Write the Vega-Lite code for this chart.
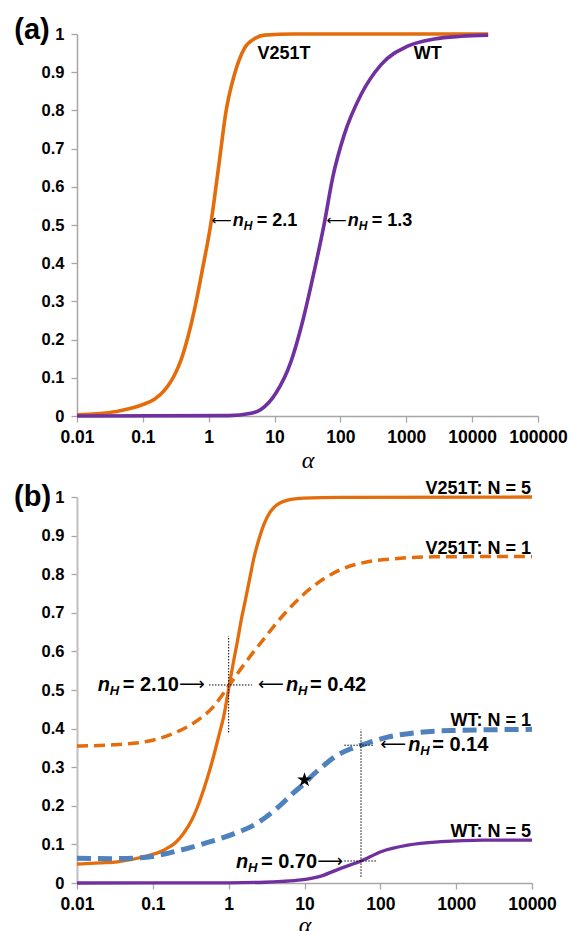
{
  "$schema": "https://vega.github.io/schema/vega-lite/v6.json",
  "background": "white",
  "padding": {"left": 14, "top": 16, "right": 5, "bottom": 0},
  "config": {
    "view": {"stroke": null},
    "font": "Liberation Sans",
    "axis": {
      "grid": false,
      "domainColor": "#a6a6a6",
      "domainWidth": 1.5,
      "tickColor": "#a6a6a6",
      "tickWidth": 1.3,
      "tickSize": 6,
      "labelFont": "Liberation Sans",
      "labelFontWeight": "bold",
      "labelColor": "black",
      "labelFlush": false,
      "labelOverlap": false
    }
  },
  "spacing": 81,
  "bounds": "flush",
  "datasets": {
    "curvesA": [
      {"series": "V251T", "alpha": 0.01, "value": 0.003},
      {"series": "V251T", "alpha": 0.02, "value": 0.006},
      {"series": "V251T", "alpha": 0.04, "value": 0.012},
      {"series": "V251T", "alpha": 0.066, "value": 0.02},
      {"series": "V251T", "alpha": 0.1, "value": 0.03},
      {"series": "V251T", "alpha": 0.15, "value": 0.044},
      {"series": "V251T", "alpha": 0.2, "value": 0.062},
      {"series": "V251T", "alpha": 0.25, "value": 0.083},
      {"series": "V251T", "alpha": 0.3, "value": 0.106},
      {"series": "V251T", "alpha": 0.38, "value": 0.147},
      {"series": "V251T", "alpha": 0.48, "value": 0.205},
      {"series": "V251T", "alpha": 0.6, "value": 0.274},
      {"series": "V251T", "alpha": 0.81, "value": 0.387},
      {"series": "V251T", "alpha": 1.07, "value": 0.5},
      {"series": "V251T", "alpha": 1.45, "value": 0.667},
      {"series": "V251T", "alpha": 1.83, "value": 0.797},
      {"series": "V251T", "alpha": 2.45, "value": 0.893},
      {"series": "V251T", "alpha": 3.5, "value": 0.963},
      {"series": "V251T", "alpha": 5, "value": 0.988},
      {"series": "V251T", "alpha": 7, "value": 0.997},
      {"series": "V251T", "alpha": 20, "value": 1.0},
      {"series": "V251T", "alpha": 17500, "value": 1.0},
      {"series": "WT", "alpha": 0.01, "value": 0.0},
      {"series": "WT", "alpha": 2, "value": 0.001},
      {"series": "WT", "alpha": 4.4, "value": 0.007},
      {"series": "WT", "alpha": 6.2, "value": 0.017},
      {"series": "WT", "alpha": 10.5, "value": 0.06},
      {"series": "WT", "alpha": 17.8, "value": 0.143},
      {"series": "WT", "alpha": 26.7, "value": 0.248},
      {"series": "WT", "alpha": 40, "value": 0.379},
      {"series": "WT", "alpha": 57, "value": 0.505},
      {"series": "WT", "alpha": 76, "value": 0.623},
      {"series": "WT", "alpha": 114, "value": 0.736},
      {"series": "WT", "alpha": 205, "value": 0.841},
      {"series": "WT", "alpha": 415, "value": 0.92},
      {"series": "WT", "alpha": 1050, "value": 0.968},
      {"series": "WT", "alpha": 2670, "value": 0.987},
      {"series": "WT", "alpha": 6800, "value": 0.994},
      {"series": "WT", "alpha": 17500, "value": 0.997}
    ],
    "labelsA": [
      {"alpha": 13.9, "value": 0.948, "label": "V251T"},
      {"alpha": 2115, "value": 0.948, "label": "WT"}
    ],
    "annA": [
      {"alpha": 1.07, "value": 0.51, "val": "= 2.1"},
      {"alpha": 59.7, "value": 0.51, "val": "= 1.3"}
    ],
    "tagA": [{"alpha": 0.00207, "value": 1.01, "label": "(a)"}],
    "curvesB": [
      {"series": "V251T N=5", "alpha": 0.01, "value": 0.049},
      {"series": "V251T N=5", "alpha": 0.02, "value": 0.052},
      {"series": "V251T N=5", "alpha": 0.034, "value": 0.055},
      {"series": "V251T N=5", "alpha": 0.076, "value": 0.068},
      {"series": "V251T N=5", "alpha": 0.139, "value": 0.085},
      {"series": "V251T N=5", "alpha": 0.2, "value": 0.105},
      {"series": "V251T N=5", "alpha": 0.255, "value": 0.129},
      {"series": "V251T N=5", "alpha": 0.33, "value": 0.165},
      {"series": "V251T N=5", "alpha": 0.42, "value": 0.215},
      {"series": "V251T N=5", "alpha": 0.52, "value": 0.27},
      {"series": "V251T N=5", "alpha": 0.63, "value": 0.327},
      {"series": "V251T N=5", "alpha": 0.75, "value": 0.385},
      {"series": "V251T N=5", "alpha": 0.86, "value": 0.431},
      {"series": "V251T N=5", "alpha": 1.02, "value": 0.513},
      {"series": "V251T N=5", "alpha": 1.15, "value": 0.57},
      {"series": "V251T N=5", "alpha": 1.29, "value": 0.621},
      {"series": "V251T N=5", "alpha": 1.46, "value": 0.68},
      {"series": "V251T N=5", "alpha": 1.66, "value": 0.733},
      {"series": "V251T N=5", "alpha": 1.9, "value": 0.79},
      {"series": "V251T N=5", "alpha": 2.14, "value": 0.84},
      {"series": "V251T N=5", "alpha": 2.5, "value": 0.89},
      {"series": "V251T N=5", "alpha": 2.9, "value": 0.928},
      {"series": "V251T N=5", "alpha": 3.5, "value": 0.96},
      {"series": "V251T N=5", "alpha": 4.3, "value": 0.979},
      {"series": "V251T N=5", "alpha": 6, "value": 0.992},
      {"series": "V251T N=5", "alpha": 9.8, "value": 0.997},
      {"series": "V251T N=5", "alpha": 30, "value": 0.999},
      {"series": "V251T N=5", "alpha": 10000, "value": 1.0},
      {"series": "WT N=5", "alpha": 0.01, "value": 0.0},
      {"series": "WT N=5", "alpha": 1, "value": 0.0005},
      {"series": "WT N=5", "alpha": 3, "value": 0.002},
      {"series": "WT N=5", "alpha": 5, "value": 0.004},
      {"series": "WT N=5", "alpha": 9, "value": 0.008},
      {"series": "WT N=5", "alpha": 16.5, "value": 0.018},
      {"series": "WT N=5", "alpha": 30, "value": 0.038},
      {"series": "WT N=5", "alpha": 55.6, "value": 0.057},
      {"series": "WT N=5", "alpha": 102, "value": 0.081},
      {"series": "WT N=5", "alpha": 230, "value": 0.098},
      {"series": "WT N=5", "alpha": 630, "value": 0.107},
      {"series": "WT N=5", "alpha": 2340, "value": 0.111},
      {"series": "WT N=5", "alpha": 10000, "value": 0.111}
    ],
    "curvesB1": [
      {"series": "V251T N=1", "alpha": 0.01, "value": 0.355},
      {"series": "V251T N=1", "alpha": 0.03, "value": 0.358},
      {"series": "V251T N=1", "alpha": 0.1, "value": 0.37},
      {"series": "V251T N=1", "alpha": 0.2, "value": 0.39},
      {"series": "V251T N=1", "alpha": 0.35, "value": 0.415},
      {"series": "V251T N=1", "alpha": 0.63, "value": 0.457},
      {"series": "V251T N=1", "alpha": 1.0, "value": 0.51},
      {"series": "V251T N=1", "alpha": 1.58, "value": 0.565},
      {"series": "V251T N=1", "alpha": 2.9, "value": 0.632},
      {"series": "V251T N=1", "alpha": 5.3, "value": 0.695},
      {"series": "V251T N=1", "alpha": 10, "value": 0.75},
      {"series": "V251T N=1", "alpha": 18, "value": 0.788},
      {"series": "V251T N=1", "alpha": 30, "value": 0.812},
      {"series": "V251T N=1", "alpha": 60, "value": 0.83},
      {"series": "V251T N=1", "alpha": 150, "value": 0.84},
      {"series": "V251T N=1", "alpha": 500, "value": 0.845},
      {"series": "V251T N=1", "alpha": 10000, "value": 0.846}
    ],
    "curvesB2": [
      {"series": "WT N=1", "alpha": 0.01, "value": 0.064},
      {"series": "WT N=1", "alpha": 0.028, "value": 0.063},
      {"series": "WT N=1", "alpha": 0.076, "value": 0.066},
      {"series": "WT N=1", "alpha": 0.21, "value": 0.083},
      {"series": "WT N=1", "alpha": 0.47, "value": 0.102},
      {"series": "WT N=1", "alpha": 1.05, "value": 0.124},
      {"series": "WT N=1", "alpha": 2.37, "value": 0.155},
      {"series": "WT N=1", "alpha": 4.3, "value": 0.193},
      {"series": "WT N=1", "alpha": 7.2, "value": 0.234},
      {"series": "WT N=1", "alpha": 10.2, "value": 0.26},
      {"series": "WT N=1", "alpha": 13.4, "value": 0.283},
      {"series": "WT N=1", "alpha": 18.4, "value": 0.306},
      {"series": "WT N=1", "alpha": 24.7, "value": 0.326},
      {"series": "WT N=1", "alpha": 40, "value": 0.347},
      {"series": "WT N=1", "alpha": 55.6, "value": 0.357},
      {"series": "WT N=1", "alpha": 125, "value": 0.378},
      {"series": "WT N=1", "alpha": 310, "value": 0.39},
      {"series": "WT N=1", "alpha": 855, "value": 0.395},
      {"series": "WT N=1", "alpha": 10000, "value": 0.398}
    ],
    "rulesB": [
      {"alpha": 1, "alpha2": 1, "value": 0.39, "value2": 0.64},
      {"alpha": 0.55, "alpha2": 2.03, "value": 0.513, "value2": 0.513},
      {"alpha": 55.6, "alpha2": 55.6, "value": 0.016, "value2": 0.398},
      {"alpha": 33.5, "alpha2": 83, "value": 0.357, "value2": 0.357},
      {"alpha": 33.5, "alpha2": 88, "value": 0.057, "value2": 0.057}
    ],
    "starB": [{"alpha": 10, "value": 0.267}],
    "labelsB": [
      {"alpha": 10000, "value": 1.0, "label": "V251T: N = 5"},
      {"alpha": 10000, "value": 0.845, "label": "V251T: N = 1"},
      {"alpha": 10000, "value": 0.398, "label": "WT: N = 1"},
      {"alpha": 10000, "value": 0.111, "label": "WT: N = 5"}
    ],
    "annBL": [
      {"alpha": 2.03, "value": 0.513, "val": "= 0.42"},
      {"alpha": 83, "value": 0.357, "val": "= 0.14"}
    ],
    "annBR": [
      {"alpha": 0.53, "value": 0.513, "val": "= 2.10"},
      {"alpha": 35.2, "value": 0.055, "val": "= 0.70"}
    ],
    "tagB": [{"alpha": 0.0026, "value": 1.0, "label": "(b)"}]
  },
  "vconcat": [
    {
      "width": 461,
      "height": 382,
      "encoding": {
        "x": {
          "field": "alpha", "type": "quantitative",
          "scale": {"type": "log", "domain": [0.01, 100000], "nice": false},
          "axis": {
            "values": [0.01, 0.1, 1, 10, 100, 1000, 10000, 100000],
            "format": "~f", "labelFontSize": 17.5, "labelPadding": 6,
            "title": "α", "titleFont": "Liberation Serif", "titleFontStyle": "italic",
            "titleFontWeight": "normal", "titleFontSize": 24, "titlePadding": 3
          }
        },
        "y": {
          "field": "value", "type": "quantitative",
          "scale": {"domain": [0, 1], "nice": false},
          "axis": {
            "values": [0, 0.1, 0.2, 0.3, 0.4, 0.5, 0.6, 0.7, 0.8, 0.9, 1],
            "format": "~g", "labelFontSize": 16.5, "labelPadding": 7, "title": null
          }
        }
      },
      "layer": [
        {
          "data": {"name": "curvesA"},
          "mark": {"type": "line", "strokeWidth": 3.6, "interpolate": "monotone"},
          "encoding": {
            "color": {"field": "series", "type": "nominal",
              "scale": {"domain": ["V251T", "WT"], "range": ["#E46C0A", "#7030A0"]},
              "legend": null}
          }
        },
        {
          "data": {"name": "labelsA"},
          "mark": {"type": "text", "fontSize": 18, "fontWeight": "bold", "align": "center", "baseline": "middle", "color": "black"},
          "encoding": {"text": {"field": "label"}}
        },
        {
          "data": {"name": "annA"},
          "mark": {"type": "text", "text": "⟵", "font": "DejaVu Sans", "fontSize": 14, "align": "left", "baseline": "middle", "dx": 1, "color": "black"}
        },
        {
          "data": {"name": "annA"},
          "mark": {"type": "text", "text": "n", "fontSize": 18, "fontStyle": "italic", "fontWeight": "bold", "align": "left", "baseline": "middle", "dx": 22, "color": "black"}
        },
        {
          "data": {"name": "annA"},
          "mark": {"type": "text", "text": "H", "fontSize": 12, "fontStyle": "italic", "fontWeight": "bold", "align": "left", "baseline": "middle", "dx": 33, "dy": 5, "color": "black"}
        },
        {
          "data": {"name": "annA"},
          "mark": {"type": "text", "fontSize": 18, "fontWeight": "bold", "align": "left", "baseline": "middle", "dx": 46, "color": "black"},
          "encoding": {"text": {"field": "val"}}
        },
        {
          "data": {"name": "tagA"},
          "mark": {"type": "text", "fontSize": 29, "fontWeight": "bold", "align": "center", "baseline": "middle", "color": "black"},
          "encoding": {"text": {"field": "label"}}
        }
      ]
    },
    {
      "width": 455,
      "height": 386,
      "encoding": {
        "x": {
          "field": "alpha", "type": "quantitative",
          "scale": {"type": "log", "domain": [0.01, 10000], "nice": false},
          "axis": {
            "values": [0.01, 0.1, 1, 10, 100, 1000, 10000],
            "format": "~f", "labelFontSize": 17.5, "labelPadding": 6,
            "title": "α", "titleFont": "Liberation Serif", "titleFontStyle": "italic",
            "titleFontWeight": "normal", "titleFontSize": 24, "titlePadding": 1
          }
        },
        "y": {
          "field": "value", "type": "quantitative",
          "scale": {"domain": [0, 1], "nice": false},
          "axis": {
            "values": [0, 0.1, 0.2, 0.3, 0.4, 0.5, 0.6, 0.7, 0.8, 0.9, 1],
            "format": "~g", "labelFontSize": 16.5, "labelPadding": 7, "title": null,
            "domainColor": "#c4c4c4", "domainWidth": 2.2
          }
        }
      },
      "layer": [
        {
          "data": {"name": "curvesB"},
          "mark": {"type": "line", "strokeWidth": 3.3, "interpolate": "monotone"},
          "encoding": {
            "color": {"field": "series", "type": "nominal",
              "scale": {"domain": ["V251T N=5", "WT N=5"], "range": ["#E46C0A", "#7030A0"]},
              "legend": null}
          }
        },
        {
          "data": {"name": "curvesB1"},
          "mark": {"type": "line", "strokeWidth": 3.5, "color": "#E46C0A", "strokeDash": [11, 6], "interpolate": "monotone"}
        },
        {
          "data": {"name": "curvesB2"},
          "mark": {"type": "line", "strokeWidth": 5, "color": "#4F81BD", "strokeDash": [14, 7], "interpolate": "monotone"}
        },
        {
          "data": {"name": "rulesB"},
          "mark": {"type": "rule", "color": "black", "strokeWidth": 1, "strokeDash": [1.5, 1.5]},
          "encoding": {"x2": {"field": "alpha2"}, "y2": {"field": "value2"}}
        },
        {
          "data": {"name": "starB"},
          "mark": {"type": "point", "shape": "M0,-1L0.2245,-0.309L0.951,-0.309L0.363,0.118L0.588,0.809L0,0.382L-0.588,0.809L-0.363,0.118L-0.951,-0.309L-0.2245,-0.309Z", "filled": true, "color": "black", "opacity": 1, "size": 240}
        },
        {
          "data": {"name": "labelsB"},
          "mark": {"type": "text", "fontSize": 18, "fontWeight": "bold", "align": "right", "baseline": "alphabetic", "dx": -1, "dy": -3, "color": "black"},
          "encoding": {"text": {"field": "label"}}
        },
        {
          "data": {"name": "annBL"},
          "mark": {"type": "text", "text": "⟵", "font": "DejaVu Sans", "fontSize": 18, "align": "left", "baseline": "middle", "dx": 6, "color": "black"}
        },
        {
          "data": {"name": "annBL"},
          "mark": {"type": "text", "text": "n", "fontSize": 20, "fontStyle": "italic", "fontWeight": "bold", "align": "left", "baseline": "middle", "dx": 34, "color": "black"}
        },
        {
          "data": {"name": "annBL"},
          "mark": {"type": "text", "text": "H", "fontSize": 13, "fontStyle": "italic", "fontWeight": "bold", "align": "left", "baseline": "middle", "dx": 46, "dy": 6, "color": "black"}
        },
        {
          "data": {"name": "annBL"},
          "mark": {"type": "text", "fontSize": 20, "fontWeight": "bold", "align": "left", "baseline": "middle", "dx": 58, "color": "black"},
          "encoding": {"text": {"field": "val"}}
        },
        {
          "data": {"name": "annBR"},
          "mark": {"type": "text", "text": "n", "fontSize": 20, "fontStyle": "italic", "fontWeight": "bold", "align": "left", "baseline": "middle", "dx": -110, "color": "black"}
        },
        {
          "data": {"name": "annBR"},
          "mark": {"type": "text", "text": "H", "fontSize": 13, "fontStyle": "italic", "fontWeight": "bold", "align": "left", "baseline": "middle", "dx": -98, "dy": 6, "color": "black"}
        },
        {
          "data": {"name": "annBR"},
          "mark": {"type": "text", "fontSize": 20, "fontWeight": "bold", "align": "left", "baseline": "middle", "dx": -85, "color": "black"},
          "encoding": {"text": {"field": "val"}}
        },
        {
          "data": {"name": "annBR"},
          "mark": {"type": "text", "text": "⟶", "font": "DejaVu Sans", "fontSize": 18, "align": "right", "baseline": "middle", "dx": -3, "color": "black"}
        },
        {
          "data": {"name": "tagB"},
          "mark": {"type": "text", "fontSize": 29, "fontWeight": "bold", "align": "center", "baseline": "middle", "color": "black"},
          "encoding": {"text": {"field": "label"}}
        }
      ]
    }
  ]
}
